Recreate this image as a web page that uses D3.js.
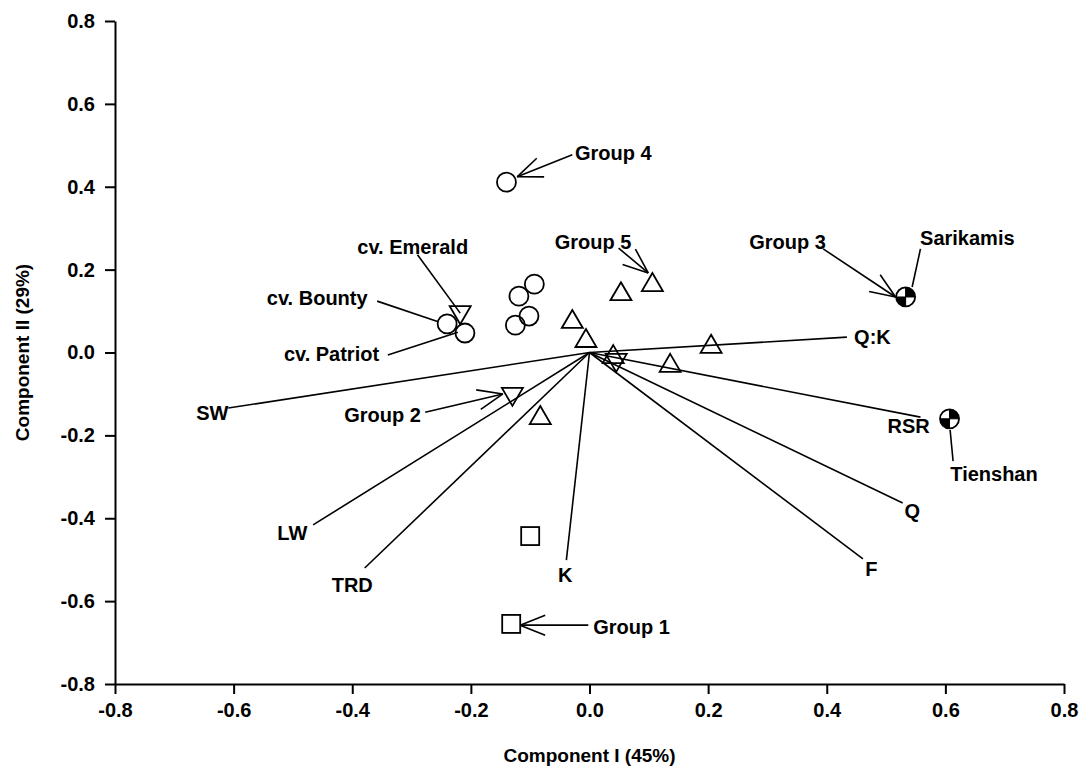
<!DOCTYPE html>
<html>
<head>
<meta charset="utf-8">
<script src="https://cdn.jsdelivr.net/npm/d3@7"></script>
<style>
  body { margin: 0; background: #fff; }
  text { font-family: Arial, "Liberation Sans", sans-serif; font-weight: bold; }
</style>
</head>
<body>
<div class="my_div"></div>
<script>
// Axis ticks
var xTicks = [-0.8, -0.6, -0.4, -0.2, 0.0, 0.2, 0.4, 0.6, 0.8];
var yTicks = [-0.8, -0.6, -0.4, -0.2, 0.0, 0.2, 0.4, 0.6, 0.8];

// Scores, one array per symbol
var circles = [[-0.140, 0.411], [-0.093, 0.165], [-0.119, 0.136], [-0.102, 0.088],
               [-0.125, 0.066], [-0.240, 0.069], [-0.210, 0.047]];
var trianglesUp = [[0.106, 0.170], [0.053, 0.148], [-0.029, 0.081], [-0.006, 0.035],
                   [0.040, -0.004], [0.205, 0.021], [0.136, -0.025], [-0.083, -0.151]];
var trianglesDown = [[-0.218, 0.090], [-0.130, -0.107], [0.045, -0.025]];
var squares = [[-0.100, -0.443], [-0.132, -0.655]];
var quartered = [[0.533, 0.134], [0.607, -0.160]];

// Loadings (vectors from the origin)
var vecNames = ["SW", "LW", "TRD", "K", "F", "Q", "RSR", "Q:K"];
var vecX = [-0.609, -0.466, -0.379, -0.039, 0.461, 0.528, 0.558, 0.434];
var vecY = [-0.134, -0.416, -0.520, -0.501, -0.498, -0.363, -0.156, 0.037];
// where each vector label sits (data units)
var vecLabelX = [-0.636, -0.501, -0.400, -0.041, 0.475, 0.544, 0.538, 0.477];
var vecLabelY = [-0.145, -0.436, -0.561, -0.537, -0.523, -0.382, -0.177, 0.037];

// Callouts: label, label position, line from -> to, arrowhead?
var notes = [
    ["Group 4", 0.040, 0.482, -0.029, 0.477, -0.122, 0.424, true],
    ["Group 5", 0.006, 0.266, 0.049, 0.252, 0.099, 0.192, true],
    ["Group 3", 0.334, 0.266, 0.394, 0.250, 0.516, 0.134, true],
    ["Group 2", -0.349, -0.151, -0.277, -0.144, -0.146, -0.100, true],
    ["Group 1", 0.071, -0.662, -0.002, -0.658, -0.117, -0.658, true],
    ["cv. Emerald", -0.298, 0.255, -0.290, 0.236, -0.218, 0.095, false],
    ["cv. Bounty", -0.459, 0.132, -0.358, 0.124, -0.255, 0.074, false],
    ["cv. Patriot", -0.435, -0.004, -0.340, -0.006, -0.222, 0.049, false],
    ["Sarikamis", 0.637, 0.276, 0.558, 0.250, 0.544, 0.158, false],
    ["Tienshan", 0.682, -0.293, 0.613, -0.262, 0.608, -0.187, false]
];

var W = 1079, H = 775;
var padLeft = 115, padTop = 21, width = 949, height = 663;

var xScale = d3.scaleLinear().domain([-0.8, 0.8]).range([0, width]);
var yScale = d3.scaleLinear().domain([-0.8, 0.8]).range([height, 0]);

var svg = d3.select(".my_div").append("svg")
    .attr("width", W)
    .attr("height", H);

var g = svg.append("g")
    .attr("transform", "translate(" + padLeft + "," + padTop + ")");

var fmt = (d) => { return d.toFixed(1) };

// Axes
var xAxis = g.append("g")
    .attr("transform", "translate(0," + height + ")")
    .call(d3.axisBottom(xScale).tickValues(xTicks).tickFormat(fmt).tickSize(10).tickSizeOuter(0).tickPadding(9));
var yAxis = g.append("g")
    .call(d3.axisLeft(yScale).tickValues(yTicks).tickFormat(fmt).tickSize(10).tickSizeOuter(0).tickPadding(10));

[xAxis, yAxis].forEach((a) => {
    a.select(".domain").attr("stroke", "#000").attr("stroke-width", 2);
    a.selectAll(".tick line").attr("stroke", "#000").attr("stroke-width", 2);
    a.selectAll(".tick text")
        .attr("fill", "#000")
        .style("font-size", "20px")
        .style("font-family", "Arial, 'Liberation Sans', sans-serif")
        .style("font-weight", "bold");
});

// Axis titles
g.append("text")
    .text("Component I (45%)")
    .attr("x", width / 2)
    .attr("y", height + 71)
    .attr("dy", "0.35em")
    .attr("text-anchor", "middle")
    .style("font-size", "19px");

g.append("text")
    .text("Component II (29%)")
    .attr("transform", "translate(" + (22 - padLeft) + "," + (height / 2) + ") rotate(-90)")
    .attr("dy", "0.35em")
    .attr("text-anchor", "middle")
    .style("font-size", "19px");

// Loading vectors
var x0 = xScale(0), y0 = yScale(0);
vecNames.forEach((name, i) => {
    g.append("line")
        .attr("x1", x0).attr("y1", y0)
        .attr("x2", xScale(vecX[i])).attr("y2", yScale(vecY[i]))
        .attr("stroke", "#000")
        .attr("stroke-width", 1.6);
    g.append("text")
        .text(name)
        .attr("x", xScale(vecLabelX[i]))
        .attr("y", yScale(vecLabelY[i]))
        .attr("dy", "0.35em")
        .attr("text-anchor", "middle")
        .style("font-size", "20px");
});

// Callouts with optional open arrowheads
var headLen = 27, headAng = 0.38;
notes.forEach((n) => {
    var ax = xScale(n[3]), ay = yScale(n[4]), bx = xScale(n[5]), by = yScale(n[6]);
    g.append("line")
        .attr("x1", ax).attr("y1", ay).attr("x2", bx).attr("y2", by)
        .attr("stroke", "#000").attr("stroke-width", 1.6);
    if (n[7]) {
        var ang = Math.atan2(ay - by, ax - bx);
        [-headAng, headAng].forEach((da) => {
            g.append("line")
                .attr("x1", bx).attr("y1", by)
                .attr("x2", bx + headLen * Math.cos(ang + da))
                .attr("y2", by + headLen * Math.sin(ang + da))
                .attr("stroke", "#000").attr("stroke-width", 1.6);
        });
    }
    g.append("text")
        .text(n[0])
        .attr("x", xScale(n[1]))
        .attr("y", yScale(n[2]))
        .attr("dy", "0.35em")
        .attr("text-anchor", "middle")
        .style("font-size", "20px");
});

// Markers
var sw = 1.8;
g.selectAll("circle.pt")
    .data(circles)
    .enter()
    .append("circle")
    .attr("class", "pt")
    .attr("cx", (d) => { return xScale(d[0]) })
    .attr("cy", (d) => { return yScale(d[1]) })
    .attr("r", 9.5)
    .attr("fill", "none")
    .attr("stroke", "#000")
    .attr("stroke-width", sw);

g.selectAll("path.up")
    .data(trianglesUp)
    .enter()
    .append("path")
    .attr("class", "up")
    .attr("d", "M0,-9L10.5,9L-10.5,9Z")
    .attr("transform", (d) => { return "translate(" + xScale(d[0]) + "," + yScale(d[1]) + ")" })
    .attr("fill", "none")
    .attr("stroke", "#000")
    .attr("stroke-width", sw);

g.selectAll("path.down")
    .data(trianglesDown)
    .enter()
    .append("path")
    .attr("class", "down")
    .attr("d", "M0,9L10.5,-9L-10.5,-9Z")
    .attr("transform", (d) => { return "translate(" + xScale(d[0]) + "," + yScale(d[1]) + ")" })
    .attr("fill", "none")
    .attr("stroke", "#000")
    .attr("stroke-width", sw);

g.selectAll("rect.sq")
    .data(squares)
    .enter()
    .append("rect")
    .attr("class", "sq")
    .attr("x", (d) => { return xScale(d[0]) - 9 })
    .attr("y", (d) => { return yScale(d[1]) - 9 })
    .attr("width", 18)
    .attr("height", 18)
    .attr("fill", "none")
    .attr("stroke", "#000")
    .attr("stroke-width", sw);

var quarter = d3.arc().innerRadius(0).outerRadius(9.5);
var qg = g.selectAll("g.quart")
    .data(quartered)
    .enter()
    .append("g")
    .attr("class", "quart")
    .attr("transform", (d) => { return "translate(" + xScale(d[0]) + "," + yScale(d[1]) + ")" });
qg.append("circle").attr("r", 9.5).attr("fill", "#fff");
qg.append("path").attr("d", quarter({ startAngle: 0, endAngle: Math.PI / 2 })).attr("fill", "#000");
qg.append("path").attr("d", quarter({ startAngle: Math.PI, endAngle: 1.5 * Math.PI })).attr("fill", "#000");
qg.append("circle").attr("r", 9.5).attr("fill", "none").attr("stroke", "#000").attr("stroke-width", sw);
qg.append("line").attr("x1", -9.5).attr("x2", 9.5).attr("stroke", "#000").attr("stroke-width", 1);
qg.append("line").attr("y1", -9.5).attr("y2", 9.5).attr("stroke", "#000").attr("stroke-width", 1);
</script>
</body>
</html>
